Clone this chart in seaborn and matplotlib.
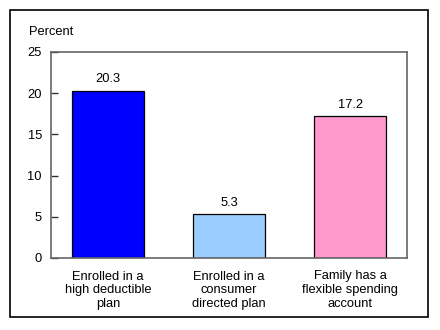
import matplotlib
matplotlib.use("Agg")
import matplotlib.pyplot as plt
import seaborn as sns
import pandas as pd
from matplotlib.patches import Rectangle

categories = ["Enrolled in a\nhigh deductible\nplan",
              "Enrolled in a\nconsumer\ndirected plan",
              "Family has a\nflexible spending\naccount"]
values = [20.3, 5.3, 17.2]
colors = ["#0000FF", "#99CCFF", "#FF99CC"]
yticks = [0, 5, 10, 15, 20, 25]

sns.set_theme(style="white")
plt.rcParams['font.family'] = ['Liberation Sans', 'DejaVu Sans']

df = pd.DataFrame({"cat": categories, "val": values})

fig = plt.figure(figsize=(4.4, 3.3), dpi=100)
ax = fig.add_axes([51/440, 1-258/330, (407-51)/440, (258-52)/330])

sns.barplot(data=df, x="cat", y="val", hue="cat", palette=colors, legend=False,
            width=0.595, edgecolor="black", linewidth=0.9, saturation=1, ax=ax)

ax.set_xlim(-0.47, 2.47)
ax.set_ylim(0, 25)
ax.set_yticks(yticks)
ax.set_xlabel("")
ax.set_ylabel("")
for s in ax.spines.values():
    s.set_visible(True)
    s.set_color("#666666")
    s.set_linewidth(1.2)
ax.tick_params(axis="y", left=True, direction="in", length=5, width=1, color="#333333",
               labelsize=9.3, pad=6.5, labelcolor="black")
ax.tick_params(axis="x", bottom=False, labelsize=9.3, pad=3, labelcolor="black")
for lbl in ax.get_xticklabels():
    lbl.set_linespacing(1.22)

for i, v in enumerate(values):
    ax.annotate(f"{v:.1f}", (i, v), xytext=(0, 4), textcoords="offset points",
                ha="center", va="bottom", fontsize=9.3, color="black")

fig.text(29/440, 1-32/330, "Percent", ha="left", va="center", fontsize=9.3, color="black")

fig.patches.append(Rectangle((10/440, 1-317/330), (428-10)/440, (317-10)/330,
                             transform=fig.transFigure, fill=False,
                             edgecolor="black", linewidth=1.2))

fig.savefig("out.png", dpi=100, facecolor="white")
